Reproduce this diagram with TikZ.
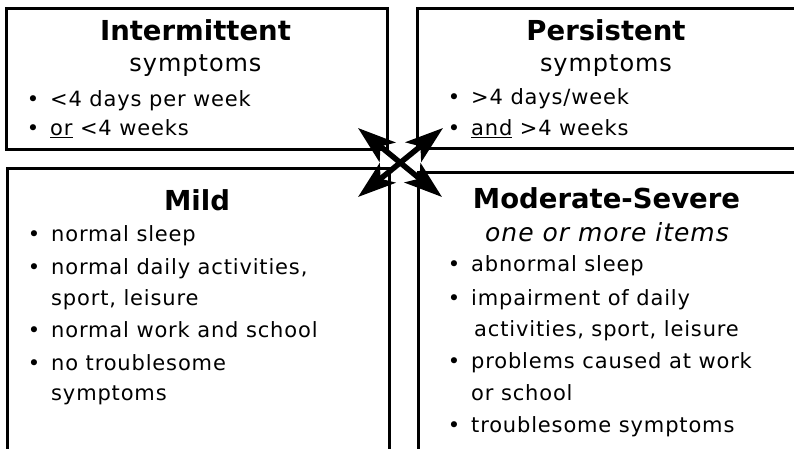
\documentclass[tikz,border=0pt]{standalone}
\usepackage{fontspec}
\newfontfamily\bodyfont{DejaVu Sans}[LetterSpace=4]
\newfontfamily\headfont{DejaVu Sans}
\usetikzlibrary{arrows.meta}
\begin{document}
\begin{tikzpicture}[x=1pt, y=-1pt,
		box/.style={draw, line width=2.5pt, anchor=north west, inner sep=0pt},
		head/.style={anchor=base, inner sep=0pt, font=\headfont\bfseries\fontsize{27.5}{31}\selectfont},
		sub/.style={anchor=base, inner sep=0pt, font=\bodyfont\fontsize{24}{28}\selectfont},
		cont/.style={anchor=base west, inner sep=0pt, font=\bodyfont\fontsize{21}{25}\selectfont},
		bul/.style={cont, execute at begin node={\llap{\textbullet\hspace{11pt}}}},
		dbl/.style={line width=5.5pt, {Stealth[length=38pt,width=25pt,inset=9pt]}-{Stealth[length=38pt,width=25pt,inset=9pt]}}]
		\useasboundingbox (0,0) rectangle (794,448);
		\clip (0,0) rectangle (794,448);
		
		%boxes
		\node[box, minimum width=381pt, minimum height=141pt] (inter) at (5,7){};
		\node[box, minimum width=380pt, minimum height=140pt] (pers) at (416,7){};
		\node[box, minimum width=382pt, minimum height=282pt] (mild) at (6,167){};
		\node[box, minimum width=379pt, minimum height=278pt] (mod) at (417,171){};
		
		%intermittent
		\node[head] (interT) at (195.5, 40){Intermittent};
		\node[sub] (interS) at (195.5, 71){symptoms};
		\node[bul] (inter1) at (50, 106){<4 days per week};
		\node[bul] (inter2) at (50, 135){\underline{or} <4 weeks};
		
		%persistent
		\node[head] (persT) at (606, 40){Persistent};
		\node[sub] (persS) at (606, 71){symptoms};
		\node[bul] (pers1) at (471, 104){>4 days/week};
		\node[bul] (pers2) at (471, 135){\underline{and} >4 weeks};
		
		%mild
		\node[head] (mildT) at (197, 210){Mild};
		\node[bul] (mild1) at (51, 241){normal sleep};
		\node[bul] (mild2) at (51, 274){normal daily activities,};
		\node[cont] (mild3) at (51, 305){sport, leisure};
		\node[bul] (mild4) at (51, 337){normal work and school};
		\node[bul] (mild5) at (51, 370){no troublesome};
		\node[cont] (mild6) at (51, 400){symptoms};
		
		%moderate-severe
		\node[head] (modT) at (606.5, 208){Moderate-Severe};
		\node[sub, font=\bodyfont\itshape\fontsize{25}{29}\selectfont] (modS) at (607, 241){one or more items};
		\node[bul] (mod1) at (471, 271){abnormal sleep};
		\node[bul] (mod2) at (471, 305){impairment of daily};
		\node[cont] (mod3) at (474, 336){activities, sport, leisure};
		\node[bul] (mod4) at (471, 368){problems caused at work};
		\node[cont] (mod5) at (471, 400){or school};
		\node[bul] (mod6) at (471, 432){troublesome symptoms};
		
		%cross arrows
		\coordinate (ul) at (358, 128);
		\coordinate (ur) at (443, 128);
		\coordinate (ll) at (358, 197);
		\coordinate (lr) at (442, 197);
		\draw[dbl] (ul) -- (lr);
		\draw[dbl] (ur) -- (ll);
\end{tikzpicture}
\end{document}
